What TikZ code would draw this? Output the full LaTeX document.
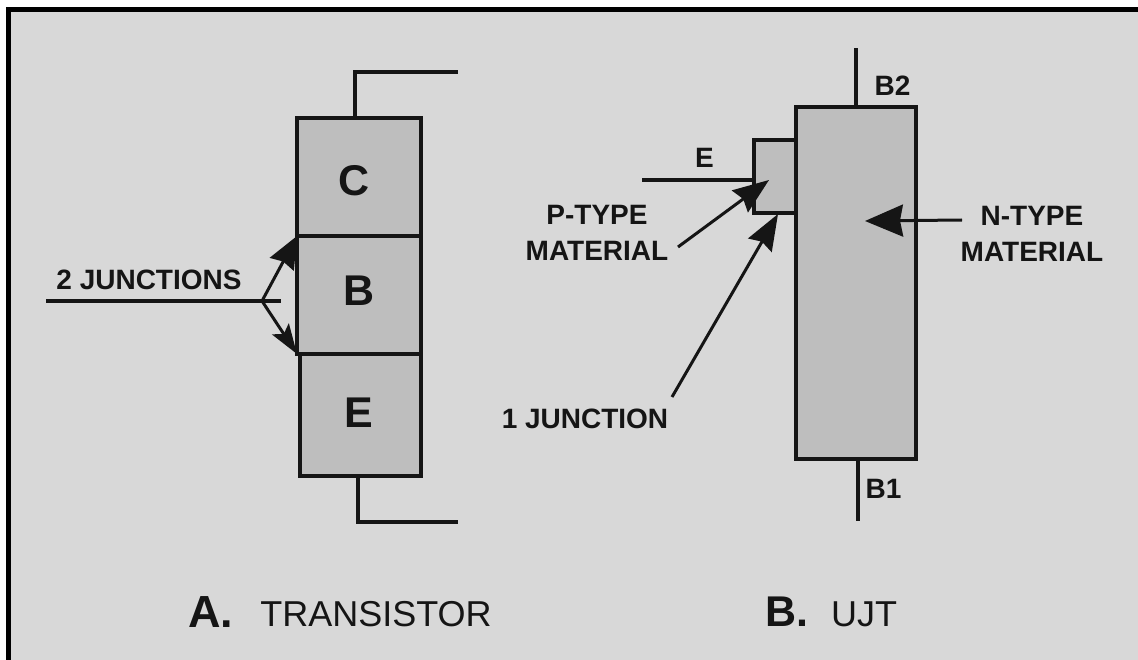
\documentclass[tikz,border=0pt]{standalone}
\usepackage{fontspec}
\setmainfont{Liberation Sans}
\usetikzlibrary{arrows.meta}
\definecolor{panel}{HTML}{D8D8D8}
\definecolor{body}{HTML}{BEBEBE}
\definecolor{ink}{HTML}{151515}
\tikzset{
  part/.style={draw=ink,fill=body,line width=3.6pt,rectangle,inner sep=0pt,outer sep=0pt,anchor=north west},
  wire/.style={draw=ink,line width=3.4pt},
  lead/.style={draw=ink,line width=3pt},
  lbl/.style={inner sep=0pt,outer sep=0pt,text=ink,align=center,anchor=center},
  lblb/.style={lbl,font=\fontsize{28}{36}\selectfont\bfseries},
  big/.style={lbl,font=\fontsize{43}{46}\selectfont\bfseries},
}
\begin{document}
\begin{tikzpicture}[x=1pt,y=-1pt]
\useasboundingbox (0,0) rectangle (1138,660);
\fill[white] (0,0) rectangle (1138,660);
\fill[black] (6,7) rectangle (1138,660);
\fill[panel] (11,12) rectangle (1138,660);
% transistor
\node[part,minimum width=124pt,minimum height=118pt] (boxC) at (297,118) {};
\node[part,minimum width=124pt,minimum height=118pt] (boxB) at (297,236) {};
\node[part,minimum width=121pt,minimum height=122pt] (boxE) at (300,354) {};
\node[big] (tC) at (354.5,180.5) {C};
\node[big] (tB) at (359.5,291) {B};
\node[big] (tE) at (358.5,412.5) {E};
\coordinate (cA) at (355,118);
\coordinate (cB) at (355,72);
\coordinate (cC) at (458,72);
\coordinate (eA) at (358,476);
\coordinate (eB) at (358,522);
\coordinate (eC) at (458,522);
\draw[wire] (cA) -- (cB) -- (cC);
\draw[wire] (eA) -- (eB) -- (eC);
\coordinate (jL) at (46,301);
\coordinate (jR) at (281,301);
\coordinate (jM) at (262,301);
\draw[wire] (jL) -- (jR);
\draw[lead,-{Stealth[length=32pt,width=27pt,inset=3pt]}] (jM) -- (boxB.north west);
\draw[lead,-{Stealth[length=30pt,width=20pt,inset=6pt]}] (jM) -- (boxB.south west);
\node[lblb] (tJ) at (149,280) {2 JUNCTIONS};
% UJT
\node[part,minimum width=42pt,minimum height=73pt] (small) at (754,140) {};
\node[part,minimum width=120pt,minimum height=352pt] (main) at (796,107) {};
\coordinate (b2A) at (856,107);
\coordinate (b2B) at (856,48);
\coordinate (b1A) at (858,459);
\coordinate (b1B) at (858,521);
\draw[wire] (b2A) -- (b2B);
\draw[wire] (b1A) -- (b1B);
\coordinate (eL) at (642,180);
\coordinate (eR) at (754,180);
\draw[wire] (eL) -- (eR);
\coordinate (pS) at (678,247);
\coordinate (pT) at (769,180);
\draw[lead,-{Stealth[length=36pt,width=27pt,inset=4pt]}] (pS) -- (pT);
\coordinate (oS) at (672,397);
\coordinate (oT) at (778,214);
\draw[lead,-{Stealth[length=36pt,width=27pt,inset=4pt]}] (oS) -- (oT);
\coordinate (nS) at (962,220);
\coordinate (nT) at (865,221);
\draw[lead,-{Stealth[length=38pt,width=32pt,inset=3pt]}] (nS) -- (nT);
\node[lblb] (tE2) at (704.5,158) {E};
\node[lblb] (tB2) at (892.5,86) {B2};
\node[lblb] (tB1) at (883.5,489) {B1};
\node[lblb] (tP) at (597,233) {P-TYPE\\MATERIAL};
\node[lblb] (tN) at (1032,234) {N-TYPE\\MATERIAL};
\node[lblb] (tO) at (585,419) {1 JUNCTION};
% captions
\node[lbl,font=\fontsize{45}{50}\selectfont\bfseries] (capA) at (211,612) {A.};
\node[lbl,font=\fontsize{36}{40}\selectfont] (capT) at (376,614) {TRANSISTOR};
\node[lbl,font=\fontsize{43}{50}\selectfont\bfseries] (capB) at (787,612) {B.};
\node[lbl,font=\fontsize{36}{40}\selectfont] (capU) at (864,614) {UJT};
\end{tikzpicture}
\end{document}
